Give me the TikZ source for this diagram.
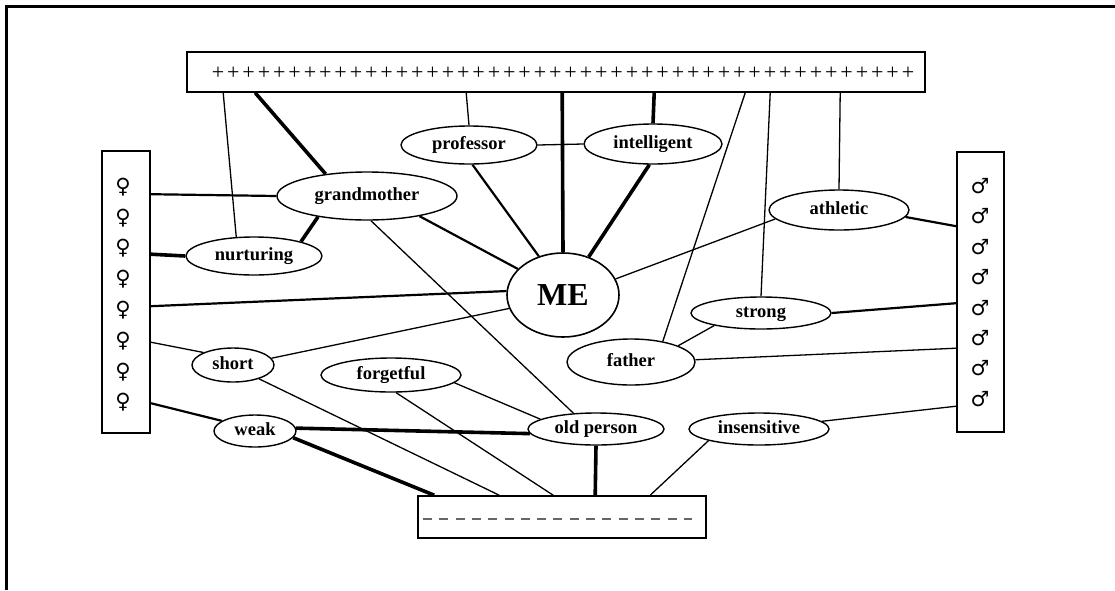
\documentclass[tikz,border=0pt]{standalone}
\usepackage{fontspec}
\setmainfont{Liberation Serif}
\newfontfamily\symfont{DejaVu Sans}
\usetikzlibrary{shapes.geometric}
\tikzset{
  trait/.style 2 args={ellipse,draw,line width=1.4pt,inner sep=0pt,minimum width=#1pt,minimum height=#2pt,
    text height=12pt,text depth=4pt,font=\bfseries\fontsize{18.5}{20}\selectfont},
  bar/.style 2 args={rectangle,draw,line width=1.6pt,inner sep=0pt,minimum width=#1pt,minimum height=#2pt},
  connect/.style={line width=1.3pt},
  connect mid/.style={line width=2.2pt},
  connect thick/.style={line width=3.6pt},
  sym/.style={font=\symfont\fontsize{21}{21}\selectfont,inner sep=0pt}
}

\begin{document}
\begin{tikzpicture}[x=1pt,y=-1pt]
\useasboundingbox (0,0) rectangle (1115,590);
\draw[line width=3pt] (6,590) -- (6,6) -- (1115,6);
% bars
\path
(556,72)    node[bar={738}{40}] (plusbar) {}
(126,292)   node[bar={48}{282}] (fembar) {}
(980.5,292) node[bar={47}{280}] (malebar) {}
(562,517)   node[bar={288}{42}] (minusbar) {};
\foreach \i in {0,...,45}
  \node[font=\fontsize{22}{22}\selectfont,inner sep=0pt] at (218+\i*15.333,73) {+};
\foreach \i in {0,...,7} {
  \node[sym] at (123,187+\i*30.8) {♀};
  \node[sym] at (980,186+\i*30.4) {♂};
}
\draw[gray!80!black,line width=1.6pt,dash pattern=on 9pt off 7.3pt] (423,519) -- (692,519);
% traits
\path
(469,145) node[trait={136}{38}] (prof) {professor}
(653,144) node[trait={138}{40}] (intel) {intelligent}
(367,196) node[trait={180}{48}] (grand) {grandmother}
(254,256) node[trait={136}{38}] (nurt) {nurturing}
(839,210) node[trait={140}{40}] (athl) {athletic}
(563,295) node[trait={112}{84},line width=1.6pt,text height=21pt,text depth=0pt,
               font=\bfseries\fontsize{32}{32}\selectfont] (me) {ME}
(761,313) node[trait={140}{32}] (strong) {strong}
(631,362) node[trait={128}{46}] (father) {father}
(233,365) node[trait={82}{34}] (short) {short}
(391,375) node[trait={140}{34}] (forget) {forgetful}
(255,431) node[trait={82}{32}] (weak) {weak}
(596,429) node[trait={136}{32}] (old) {old person}
(759,429) node[trait={140}{32}] (insens) {insensitive};
% top bar
\draw[connect] ([xshift=37pt]plusbar.south west) -- (nurt.133);
\draw[connect thick] ([xshift=69pt]plusbar.south west) -- (grand.152);
\draw[connect] ([xshift=280pt]plusbar.south west) -- (prof.north);
\draw[connect thick] ([xshift=376pt]plusbar.south west) -- (me.north);
\draw[connect thick] ([xshift=468pt]plusbar.south west) -- (intel.north);
\draw[connect] ([xshift=559pt]plusbar.south west) -- (father.33);
\draw[connect] ([xshift=584pt]plusbar.south west) -- (strong.north);
\draw[connect] ([xshift=654pt]plusbar.south west) -- (athl.north);
% female bar
\draw[connect mid] ([yshift=-44pt]fembar.north east) -- (grand.west);
\draw[connect thick] ([yshift=-104pt]fembar.north east) -- (nurt.west);
\draw[connect mid] ([yshift=-156pt]fembar.north east) -- (me.176);
\draw[connect] ([yshift=-192pt]fembar.north east) -- (short.157);
\draw[connect mid] ([yshift=-253pt]fembar.north east) -- (weak.163);
% male bar
\draw[connect mid] (athl.-6) -- ([yshift=-75pt]malebar.north west);
\draw[connect mid] (strong.east) -- ([yshift=-152pt]malebar.north west);
\draw[connect] (father.2) -- ([yshift=-197pt]malebar.north west);
\draw[connect] (insens.7) -- ([yshift=-255pt]malebar.north west);
% between traits
\draw[connect] (prof.east) -- (intel.west);
\draw[connect mid] (prof.-80) -- (me.122);
\draw[connect thick] (intel.-100) -- (me.56);
\draw[connect mid] (grand.-21) -- (me.150);
\draw[connect thick] (grand.203) -- (nurt.17);
\draw[connect] (grand.-81) -- (old.145);
\draw[connect] (me.17) -- (athl.188);
\draw[connect] (me.194) -- (short.10);
\draw[connect] (father.19) -- (strong.195);
\draw[connect] (forget.-7) -- (old.170);
\draw[connect thick] (weak.4) -- (old.184);
% bottom bar
\draw[connect thick] (weak.-10) -- ([xshift=17pt]minusbar.north west);
\draw[connect] (short.-28) -- ([xshift=82pt]minusbar.north west);
\draw[connect] (forget.-74) -- ([xshift=136pt]minusbar.north west);
\draw[connect thick] (old.south) -- ([xshift=178pt]minusbar.north west);
\draw[connect] (insens.193) -- ([xshift=233pt]minusbar.north west);
\end{tikzpicture}
\end{document}
